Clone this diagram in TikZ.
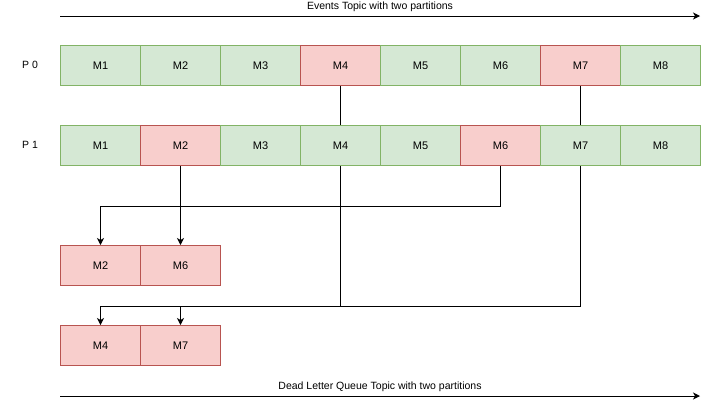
\documentclass[tikz,border=0pt]{standalone}
\usepackage{fontspec}
\setmainfont{Liberation Sans}
\usetikzlibrary{arrows.meta,positioning}
\definecolor{okfill}{HTML}{D5E8D4}
\definecolor{okdraw}{HTML}{82B366}
\definecolor{badfill}{HTML}{F8CECC}
\definecolor{baddraw}{HTML}{B85450}

\begin{document}
\begin{tikzpicture}[x=1pt,y=-1pt,
    msg/.style={draw=okdraw, fill=okfill, line width=1pt, minimum width=80pt, minimum height=40pt, inner sep=0pt, anchor=north west, font=\fontsize{11}{13}\selectfont},
    bad/.style={msg, draw=baddraw, fill=badfill},
    arr/.style={-{Stealth[length=7pt,width=7pt,inset=2pt]}, line width=1pt},
    line/.style={line width=1pt},
    lbl/.style={font=\fontsize{10.5}{12}\selectfont, inner sep=1pt}
]
\useasboundingbox (0,0) rectangle (709,405);

% events topic
\coordinate (etl) at (60,16);
\coordinate (etr) at (700,16);
\draw[arr] (etl) -- node[lbl, above=3pt] {Events Topic with two partitions} (etr);

\node[lbl] (p0) at (30,65) {P 0};
\node[lbl] (p1) at (30,145) {P 1};

\foreach \i in {1,...,8} {
  \ifnum\i=4 \def\st{bad}\else\ifnum\i=7 \def\st{bad}\else\def\st{msg}\fi\fi
  \node[\st] (p0m\i) at ({60+80*(\i-1)},45) {M\i};
}
\foreach \i in {1,...,8} {
  \ifnum\i=2 \def\st{bad}\else\ifnum\i=6 \def\st{bad}\else\def\st{msg}\fi\fi
  \node[\st] (p1m\i) at ({60+80*(\i-1)},125) {M\i};
}

% dead letter queue
\node[bad] (dm2) at (60,245) {M2};
\node[bad] (dm6) at (140,245) {M6};
\node[bad] (dm4) at (60,325) {M4};
\node[bad] (dm7) at (140,325) {M7};

\coordinate (jhigh) at (0,206);
\coordinate (jlow) at (0,306);

\draw[line] (p0m4.south) -- (p1m4.north);
\draw[line] (p0m7.south) -- (p1m7.north);
\draw[arr] (p1m2.south) -- (dm6.north);
\draw[arr] (p1m6.south) -- (p1m6.south |- jhigh) -| (dm2.north);
\draw[arr] (p1m4.south) -- (p1m4.south |- jlow) -| (dm4.north);
\draw[arr] (p1m7.south) -- (p1m7.south |- jlow) -| (dm7.north);

\coordinate (dtl) at (60,396);
\coordinate (dtr) at (700,396);
\draw[arr] (dtl) -- node[lbl, above=3pt] {Dead Letter Queue Topic with two partitions} (dtr);
\end{tikzpicture}
\end{document}
